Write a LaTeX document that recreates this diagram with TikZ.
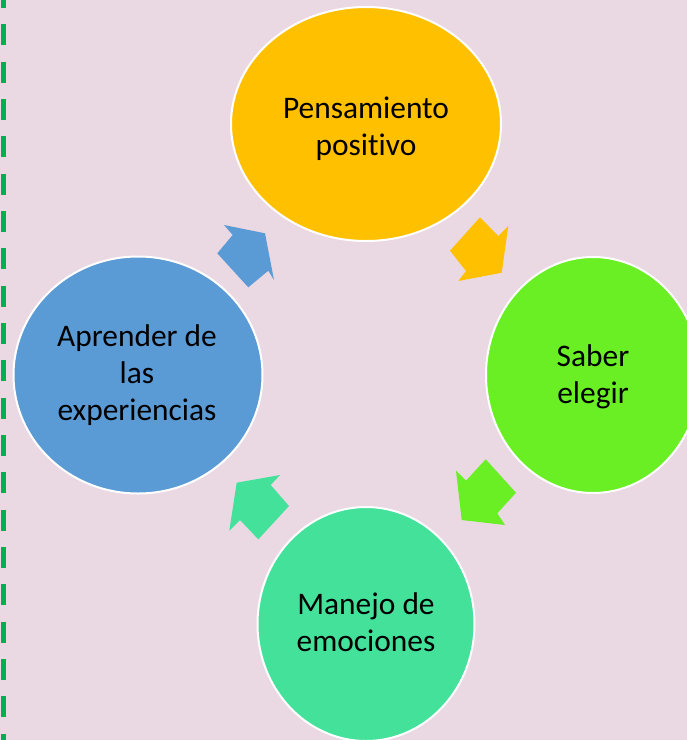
\documentclass[tikz,border=0pt]{standalone}
\usepackage{fontspec}
\setmainfont{Carlito}[Ligatures=NoCommon]
\usetikzlibrary{shapes.geometric}
\definecolor{bgpink}{HTML}{EAD8E3}
\definecolor{dashgreen}{HTML}{00B050}
\definecolor{corange}{HTML}{FFC000}
\definecolor{cgreen}{HTML}{6AEF24}
\definecolor{cteal}{HTML}{44E19B}
\definecolor{cblue}{HTML}{5B9BD5}
\begin{document}
\begin{tikzpicture}[x=1pt,y=-1pt,
  circ/.style={ellipse, draw=white, line width=2pt, inner sep=0pt},
  lbl/.style={align=center, inner sep=0pt, text=black, font=\fontsize{31.4}{37}\selectfont}]
\useasboundingbox (0,0) rectangle (687,740);
\fill[bgpink] (0,0) rectangle (687,740);
\draw[dashgreen, line width=5pt, dash pattern=on 21pt off 16.33pt] (3.5,-13) -- (3.5,760);

% circles
\node[circ, fill=corange, minimum width=270pt, minimum height=234pt] (n1) at (366,124) {};
\node[circ, fill=cgreen, minimum width=214pt, minimum height=236pt] (n2) at (593,375) {};
\node[circ, fill=cteal, minimum width=217pt, minimum height=234pt] (n3) at (366,624) {};
\node[circ, fill=cblue, minimum width=249pt, minimum height=237pt] (n4) at (138,375) {};

% labels
\node[lbl] (t1) at (366,129) {Pensamiento\\positivo};
\node[lbl] (t2) at (593,377) {Saber\\elegir};
\node[lbl] (t3) at (366,622) {Manejo de\\emociones};
\node[lbl] (t4) at (137,375) {Aprender de\\las\\experiencias};

% block arrows
\fill[corange] (480,217.3) -- (498.3,236) -- (508.3,226) -- (501.7,272.7) -- (458.3,281) -- (466,271) -- (450,250.7) -- cycle;
\fill[cgreen] (485.7,459.3) -- (516,492.7) -- (497.3,513.3) -- (505,525) -- (461.7,520) -- (456,470.7) -- (466,480.7) -- cycle;
\fill[cteal] (280,475) -- (270.7,485) -- (289,506) -- (258.3,539.3) -- (240,520) -- (229.3,530.7) -- (236.7,482.7) -- cycle;
\fill[cblue] (224,225) -- (265,233.3) -- (274,280) -- (268.3,270.7) -- (248.3,287.3) -- (217.3,253.3) -- (232.7,235) -- cycle;
\end{tikzpicture}
\end{document}
